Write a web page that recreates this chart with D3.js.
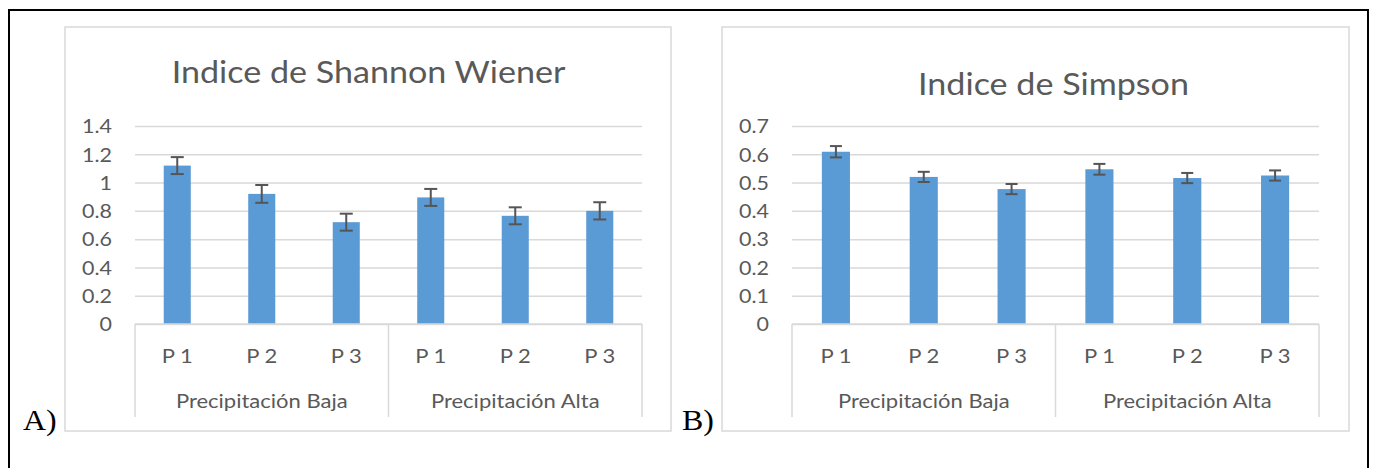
<!DOCTYPE html>
<html>
<head>
<meta charset="utf-8">
<script src="https://cdn.jsdelivr.net/npm/d3@7"></script>
<style>
  body { margin: 0; background: #fff; }
  svg text { font-family: Lato, "Open Sans", sans-serif; fill: #595959; }
</style>
</head>
<body>
<div id="chart"></div>
<script>
// ---- data ----
var groups = ["Precipitación Baja", "Precipitación Alta"];
var sites = ["P 1", "P 2", "P 3"];

var shannonValues = [1.12, 0.92, 0.72, 0.895, 0.765, 0.80];
var shannonErrors = [0.06, 0.063, 0.06, 0.06, 0.06, 0.061];
var shannonTicks = [0, 0.2, 0.4, 0.6, 0.8, 1, 1.2, 1.4];

var simpsonValues = [0.609, 0.520, 0.477, 0.547, 0.516, 0.525];
var simpsonErrors = [0.02, 0.018, 0.018, 0.019, 0.018, 0.018];
var simpsonTicks = [0, 0.1, 0.2, 0.3, 0.4, 0.5, 0.6, 0.7];

// the figure's text is a little wider than Lato, stretch it sideways
var SX = 1.1;

var svg = d3.select("#chart").append("svg")
    .attr("width", 1375)
    .attr("height", 468);

// outer black frame (bottom edge runs off the picture)
svg.append("rect")
    .attr("x", 9).attr("y", 10)
    .attr("width", 1359).attr("height", 520)
    .attr("fill", "none")
    .attr("stroke", "#000")
    .attr("stroke-width", 2);

// put a text at (x, y) with the horizontal stretch
function place(sel, xf, yv) {
    sel.attr("transform", function(d) {
        var xv = typeof xf === "function" ? xf(d) : xf;
        return "translate(" + xv + "," + yv + ") scale(" + SX + ",1)";
    });
}

function drawPanel(p) {
    var g = svg.append("g");

    // chart area border
    g.append("rect")
        .attr("x", p.box[0]).attr("y", p.box[1])
        .attr("width", p.box[2] - p.box[0]).attr("height", p.box[3] - p.box[1])
        .attr("fill", "#fff")
        .attr("stroke", "#d9d9d9")
        .attr("stroke-width", 1.5);

    // rows = group x site
    var rows = [];
    groups.forEach(function(gr, gi) {
        sites.forEach(function(s, si) {
            var i = gi * sites.length + si;
            rows.push({ key: gr + "|" + s, group: gr, site: s, v: p.values[i], e: p.errors[i] });
        });
    });

    var x = d3.scaleBand()
        .domain(rows.map(function(d) { return d.key; }))
        .range([p.left, p.right])
        .paddingInner(0.68)
        .paddingOuter(0.34);

    var xg = d3.scaleBand()
        .domain(groups)
        .range([p.left, p.right]);

    var y = d3.scaleLinear()
        .domain([0, p.ticks[p.ticks.length - 1]])
        .range([324, 126]);

    // y axis with gridlines
    var yAxis = g.append("g")
        .attr("transform", "translate(" + p.left + ",0)")
        .call(d3.axisLeft(y)
            .tickValues(p.ticks)
            .tickFormat(function(d) { return String(d); })
            .tickSizeInner(-(p.right - p.left))
            .tickSizeOuter(0)
            .tickPadding(23));
    yAxis.select(".domain").remove();
    yAxis.selectAll(".tick line")
        .attr("stroke", "#d9d9d9")
        .attr("stroke-width", 1.5);
    yAxis.selectAll(".tick text")
        .attr("fill", "#595959")
        .style("font-size", "19.5px")
        .attr("x", -23 / SX)
        .attr("dy", "0.35em")
        .attr("transform", "scale(" + SX + ",1)");

    // bars
    g.selectAll(".bar")
        .data(rows)
        .enter().append("rect")
        .attr("class", "bar")
        .attr("x", function(d) { return x(d.key); })
        .attr("width", x.bandwidth())
        .attr("y", function(d) { return y(d.v); })
        .attr("height", function(d) { return y(0) - y(d.v); })
        .attr("fill", "#5b9bd5");

    // error bars
    var eb = g.selectAll(".err")
        .data(rows)
        .enter().append("g")
        .attr("class", "err")
        .attr("stroke", "#555")
        .attr("stroke-width", 2);
    eb.append("line")
        .attr("x1", function(d) { return x(d.key) + x.bandwidth() / 2; })
        .attr("x2", function(d) { return x(d.key) + x.bandwidth() / 2; })
        .attr("y1", function(d) { return y(d.v + d.e); })
        .attr("y2", function(d) { return y(d.v - d.e); });
    [1, -1].forEach(function(sign) {
        eb.append("line")
            .attr("x1", function(d) { return x(d.key) + x.bandwidth() / 2 - p.cap / 2; })
            .attr("x2", function(d) { return x(d.key) + x.bandwidth() / 2 + p.cap / 2; })
            .attr("y1", function(d) { return y(d.v + sign * d.e); })
            .attr("y2", function(d) { return y(d.v + sign * d.e); });
    });

    // category axis
    g.append("line")
        .attr("x1", p.left).attr("x2", p.right)
        .attr("y1", y(0)).attr("y2", y(0))
        .attr("stroke", "#d9d9d9").attr("stroke-width", 1.5);
    var bounds = groups.map(function(gr) { return xg(gr); }).concat([p.right]);
    g.selectAll(".sep")
        .data(bounds)
        .enter().append("line")
        .attr("x1", function(d) { return d; }).attr("x2", function(d) { return d; })
        .attr("y1", y(0)).attr("y2", 417)
        .attr("stroke", "#d9d9d9").attr("stroke-width", 1.5);

    g.selectAll(".site")
        .data(rows)
        .enter().append("text")
        .attr("text-anchor", "middle")
        .style("font-size", "20px")
        .text(function(d) { return d.site; })
        .call(place, function(d) { return x(d.key) + x.bandwidth() / 2; }, 363);

    g.selectAll(".grp")
        .data(groups)
        .enter().append("text")
        .attr("text-anchor", "middle")
        .style("font-size", "20px")
        .text(function(d) { return d; })
        .call(place, function(d) { return xg(d) + xg.bandwidth() / 2; }, 408);

    // title
    g.append("text")
        .attr("text-anchor", "middle")
        .style("font-size", "31px")
        .text(p.title)
        .call(place, p.titleX, p.titleY);

    // panel letter
    svg.append("text")
        .style("font-family", "'Liberation Serif', 'Times New Roman', serif")
        .style("font-size", "29px")
        .style("fill", "#000")
        .text(p.letter)
        .call(place, p.letterX, 430);
}

drawPanel({
    title: "Indice de Shannon Wiener", letter: "A)",
    values: shannonValues, errors: shannonErrors, ticks: shannonTicks,
    box: [65, 27, 671, 431], left: 135, right: 642,
    titleX: 368.5, titleY: 83, letterX: 23, cap: 13
});

drawPanel({
    title: "Indice de Simpson", letter: "B)",
    values: simpsonValues, errors: simpsonErrors, ticks: simpsonTicks,
    box: [722, 27, 1349, 431], left: 792, right: 1319,
    titleX: 1053.5, titleY: 95, letterX: 682, cap: 12
});
</script>
</body>
</html>
